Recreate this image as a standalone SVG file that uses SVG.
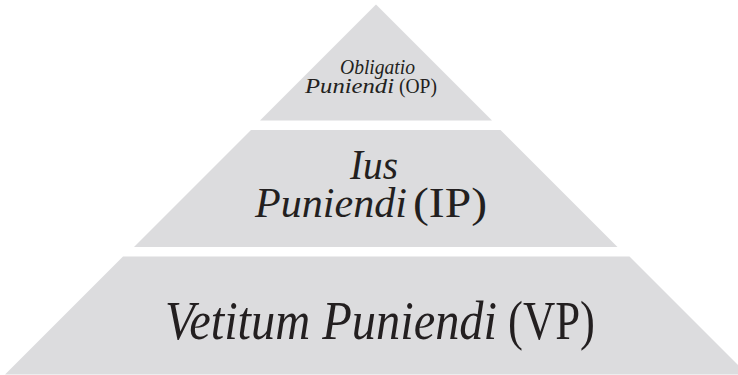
<svg xmlns="http://www.w3.org/2000/svg" width="738" height="375" viewBox="0 0 738 375">
<style>
.layer{fill:#dcdcde;stroke:none}
.t{font-family:"Liberation Serif","Times New Roman",serif;fill:#231f20}
.i{font-style:italic}
</style>
<rect width="738" height="375" fill="#ffffff"/>
<g id="top">
<polygon class="layer" points="376,4.5 492,120.5 260,120.5"/>
<text class="t i" x="340" y="74" font-size="21" textLength="75" lengthAdjust="spacingAndGlyphs">Obligatio</text>
<text class="t i" x="305" y="93" font-size="21" textLength="89" lengthAdjust="spacingAndGlyphs">Puniendi</text>
<text class="t" x="399" y="93" font-size="21" textLength="38" lengthAdjust="spacingAndGlyphs">(OP)</text>
</g>
<g id="middle">
<polygon class="layer" points="251,130 500.5,130 617.5,247 134,247"/>
<text class="t i" x="350" y="178.5" font-size="42" textLength="48" lengthAdjust="spacingAndGlyphs">Ius</text>
<text class="t i" x="255" y="216.5" font-size="42" textLength="152" lengthAdjust="spacingAndGlyphs">Puniendi</text>
<text class="t" x="413" y="216.5" font-size="42" textLength="74" lengthAdjust="spacingAndGlyphs">(IP)</text>
</g>
<g id="bottom">
<polygon class="layer" points="123,256.5 629.5,256.5 747.5,374.5 5,374.5"/>
<text class="t i" x="165" y="339" font-size="54" textLength="332" lengthAdjust="spacingAndGlyphs">Vetitum Puniendi</text>
<text class="t" x="508" y="339" font-size="54" textLength="87" lengthAdjust="spacingAndGlyphs">(VP)</text>
</g>
<g id="connectors"/>
</svg>
